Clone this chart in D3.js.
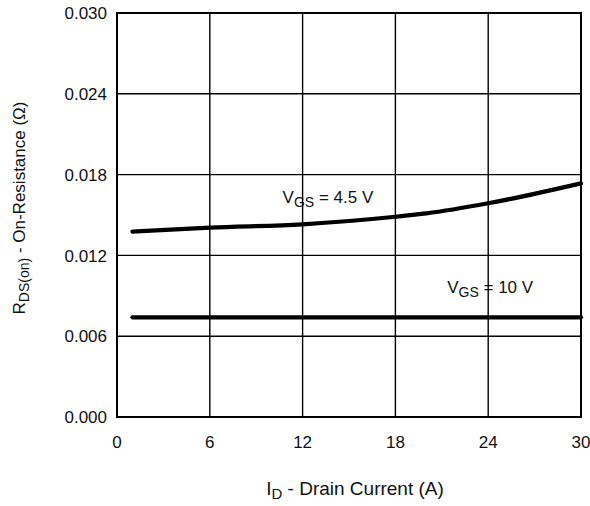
<!DOCTYPE html>
<html>
<head>
<meta charset="utf-8">
<script src="https://cdn.jsdelivr.net/npm/d3@7"></script>
<style>
  body { margin: 0; background: #fff; }
  text { font-family: "Liberation Sans", Arial, sans-serif; fill: #111; }
</style>
</head>
<body>
<svg id="chart" width="590" height="506"></svg>
<script>
// values
const xTicks = [0, 6, 12, 18, 24, 30]
const yTicks = [0.000, 0.006, 0.012, 0.018, 0.024, 0.030]

const current45 = [1, 6, 12, 18, 20, 24, 30]
const rds45 = [0.01376, 0.01406, 0.01431, 0.01487, 0.01512, 0.01587, 0.01735]

const current10 = [1, 12, 24, 30]
const rds10 = [0.0074, 0.0074, 0.0074, 0.0074]

const margin = {top: 13, right: 9, bottom: 89, left: 117}
const width = 590 - margin.left - margin.right
const height = 506 - margin.top - margin.bottom

const svg = d3.select('#chart')
const g = svg.append('g')
    .attr('transform', `translate(${margin.left},${margin.top})`)

const x = d3.scaleLinear().domain([0, 30]).range([0, width])
const y = d3.scaleLinear().domain([0, 0.030]).range([height, 0])

// grid
g.selectAll('.vgrid').data(xTicks.slice(1, -1)).join('line')
    .attr('x1', d => x(d)).attr('x2', d => x(d))
    .attr('y1', 0).attr('y2', height)
    .attr('stroke', '#000').attr('stroke-width', 1.4)
g.selectAll('.hgrid').data(yTicks.slice(1, -1)).join('line')
    .attr('x1', 0).attr('x2', width)
    .attr('y1', d => y(d)).attr('y2', d => y(d))
    .attr('stroke', '#000').attr('stroke-width', 1.4)

// frame
g.append('rect')
    .attr('width', width).attr('height', height)
    .attr('fill', 'none').attr('stroke', '#000').attr('stroke-width', 2)

// tick labels
g.selectAll('.ylab').data(yTicks).join('text')
    .attr('x', -10).attr('y', d => y(d))
    .attr('dy', '0.36em')
    .attr('text-anchor', 'end')
    .attr('font-size', 17)
    .text(d => d3.format('.3f')(d))

g.selectAll('.xlab').data(xTicks).join('text')
    .attr('x', d => x(d)).attr('y', height + 31)
    .attr('text-anchor', 'middle')
    .attr('font-size', 17)
    .text(d => d)

// curves
const line = d3.line()
    .x(d => x(d[0])).y(d => y(d[1]))
    .curve(d3.curveMonotoneX)

const series = [
  d3.zip(current45, rds45),
  d3.zip(current10, rds10)
]
g.selectAll('.curve').data(series).join('path')
    .attr('d', line)
    .attr('fill', 'none')
    .attr('stroke', '#000')
    .attr('stroke-width', 4.2)
    .attr('stroke-linecap', 'round')

// curve labels
function vgs(xPos, yPos, val) {
  const t = g.append('text')
      .attr('x', xPos).attr('y', yPos)
      .attr('font-size', 17)
  t.append('tspan').text('V')
  t.append('tspan').attr('dy', 4).attr('font-size', 14).text('GS')
  t.append('tspan').attr('dy', -4).text(` = ${val} V`)
}
vgs(x(12) - 20, y(0.01431) - 21, '4.5')
vgs(x(24) - 41, y(0.0074) - 24, '10')

// axis titles
const xt = svg.append('text')
    .attr('x', 355)
    .attr('y', 495)
    .attr('text-anchor', 'middle')
    .attr('font-size', 19)
xt.append('tspan').text('I')
xt.append('tspan').attr('dy', 4).attr('font-size', 15).text('D')
xt.append('tspan').attr('dy', -4).text(' - Drain Current (A)')

const yt = svg.append('text')
    .attr('transform', `translate(25,${margin.top + height / 2 - 7}) rotate(-90)`)
    .attr('text-anchor', 'middle')
    .attr('font-size', 17)
yt.append('tspan').text('R')
yt.append('tspan').attr('dy', 4).attr('font-size', 14).text('DS(on)')
yt.append('tspan').attr('dy', -4).text(' - On-Resistance (\u03A9)')
</script>
</body>
</html>
